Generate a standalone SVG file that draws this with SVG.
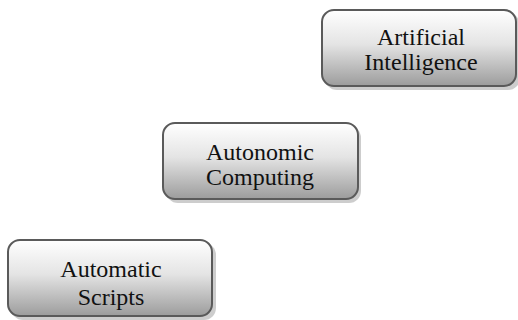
<svg xmlns="http://www.w3.org/2000/svg" width="518" height="320" viewBox="0 0 518 320">
<style>
.box{fill:url(#g);stroke:#5a5a5a;stroke-width:2}
.sh{fill:#b8b8b8;opacity:0.7}
.t{font-family:"Liberation Serif",serif;font-size:24px;fill:#111;text-anchor:middle}
</style>
<defs>
<linearGradient id="g" x1="0" y1="0" x2="0" y2="1">
<stop offset="0" stop-color="#ffffff"/>
<stop offset="0.45" stop-color="#e4e4e4"/>
<stop offset="1" stop-color="#9c9c9c"/>
</linearGradient>
<clipPath id="c1"><rect x="322" y="10" width="196" height="65"/></clipPath>
<clipPath id="c2"><rect x="163" y="123" width="196" height="67"/></clipPath>
<clipPath id="c3"><rect x="8" y="240" width="205" height="73"/></clipPath>
</defs>
<rect width="518" height="320" fill="#fff"/>
<g id="ai">
<rect class="sh" x="325" y="13" width="195" height="77" rx="12"/>
<rect class="box" x="322" y="10" width="194" height="76" rx="12"/>
<g clip-path="url(#c1)">
<text class="t" x="421" y="45">Artificial</text>
<text class="t" x="421" y="70">Intelligence</text>
</g>
</g>
<g id="ac">
<rect class="sh" x="166" y="126" width="195" height="77" rx="12"/>
<rect class="box" x="163" y="123" width="195" height="76" rx="12"/>
<g clip-path="url(#c2)">
<text class="t" x="260" y="160">Autonomic</text>
<text class="t" x="260" y="185">Computing</text>
</g>
</g>
<g id="as">
<rect class="sh" x="11" y="243" width="205" height="77" rx="12"/>
<rect class="box" x="8" y="240" width="204" height="76" rx="12"/>
<g clip-path="url(#c3)">
<text class="t" x="111" y="277">Automatic</text>
<text class="t" x="111" y="305">Scripts</text>
</g>
</g>
<g id="connectors"/>
</svg>
